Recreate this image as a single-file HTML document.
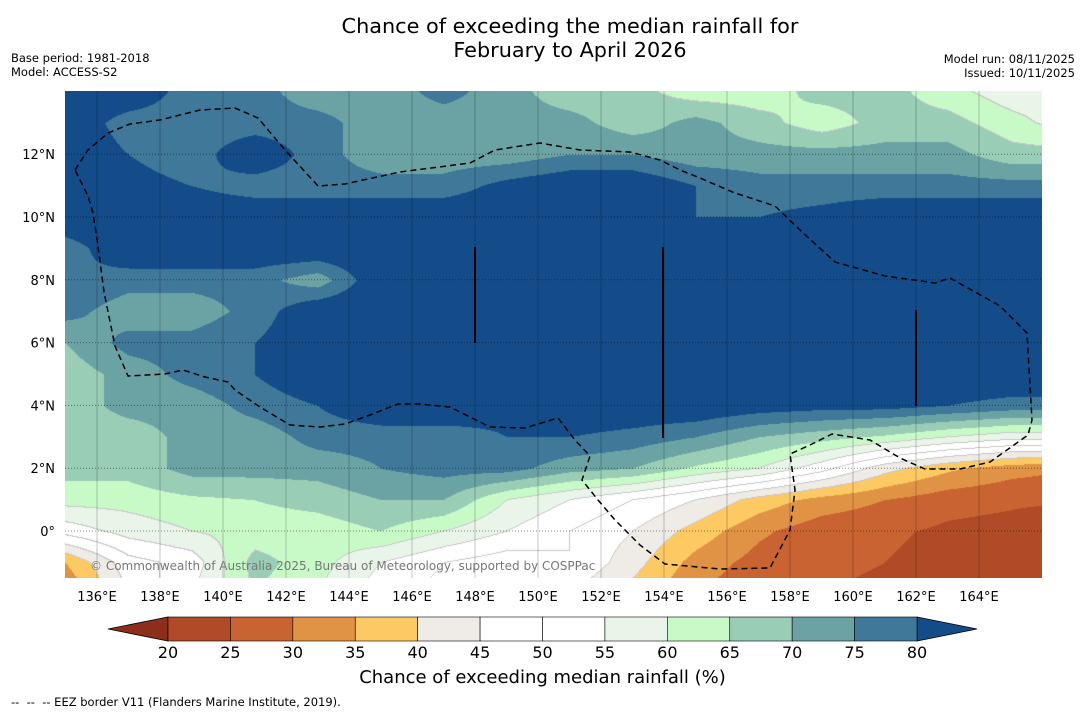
<!DOCTYPE html>
<html><head><meta charset="utf-8">
<style>
body{margin:0;background:#fff;width:1085px;height:713px;overflow:hidden;position:relative;font-family:"DejaVu Sans","Liberation Sans",sans-serif;}
.t{position:absolute;white-space:nowrap;color:#000;}
canvas{position:absolute;left:65px;top:91px;}
svg{position:absolute;left:0;top:0;}
</style></head><body>
<div class="t" style="left:0;width:1140px;text-align:center;top:14px;font-size:20.8px;line-height:24px;">Chance of exceeding the median rainfall for<br>February to April 2026</div>
<div class="t" style="left:11px;top:51px;font-size:11.5px;line-height:14px;">Base period: 1981-2018<br>Model: ACCESS-S2</div>
<div class="t" style="right:10px;top:52px;font-size:11.5px;line-height:14px;text-align:right;">Model run: 08/11/2025<br>Issued: 10/11/2025</div>
<canvas id="map" width="977" height="487"></canvas>
<svg id="ov" width="1085" height="713"></svg>
<div class="t" style="left:0;width:1085px;text-align:center;top:667px;font-size:18px;">Chance of exceeding median rainfall (%)</div>
<div class="t" style="left:11px;top:695px;font-size:11.5px;">--&nbsp; --&nbsp; -- EEZ border V11 (Flanders Marine Institute, 2019).</div>
<script>
const lons=[135,137,139,141,143,145,147,149,151,153,155,157,159,161,163,165,167];
const lats=[14,13,12,11,10,9,8,7,6,5,4,3,2,1,0,-1,-2];
const grid=[
[85,85,77,77,72,72,77,72,67,67,62,62,67,67,62,57,57],
[85,77,77,77,77,72,72,72,72,67,72,67,62,67,67,62,57],
[85,80,77,85,77,72,72,72,75,75,72,72,72,72,72,67,67],
[85,82,80,77,77,77,77,82,85,85,80,77,77,77,77,77,77],
[85,85,85,85,85,85,85,85,85,85,80,80,82,85,85,85,85],
[77,85,85,85,85,85,85,85,85,85,85,85,85,85,85,85,85],
[80,77,77,77,72,85,85,85,85,85,85,85,85,85,85,85,85],
[77,72,72,77,85,85,85,85,85,85,85,85,85,85,85,85,85],
[70,77,77,80,85,85,85,85,85,85,85,85,85,85,85,85,85],
[67,72,77,80,85,85,85,85,85,85,85,85,85,85,85,85,85],
[67,72,72,77,80,85,85,82,85,85,85,83,82,82,80,78,78],
[67,67,72,72,77,77,77,80,80,78,75,70,67,64,60,57,57],
[67,67,72,72,72,75,77,77,72,70,64,60,52,42,36,32,30],
[62,62,64,65,67,70,70,60,55,50,45,38,33,30,27,26,26],
[52,57,60,62,62,65,60,55,50,45,38,31,27,26,24,23,18],
[35,48,52,67,62,55,50,47,50,42,33,28,26,25,23,23,18],
[30,45,55,65,60,52,48,45,45,38,30,26,25,24,22,22,20]];
const levels=[20,25,30,35,40,45,50,55,60,65,70,75,80];
const lonTicks=[136,138,140,142,144,146,148,150,152,154,156,158,160,162,164];
const latTicks=[12,10,8,6,4,2,0];
const cbTicks=[20,25,30,35,40,45,50,55,60,65,70,75,80];
const colors=['#8c2e1b','#b04a27','#c96331','#e09345','#fdc963','#efebe6','#ffffff','#ffffff','#eaf5ea','#c8fac8','#9acdb6','#6ba3a5','#3f7898','#134c89'];
const X=lon=>65.5+31.5*(lon-135);
const Y=lat=>531-31.4*lat;
const LX=x=>(x-65.5)/31.5+135;
const LY=y=>(531-y)/31.4;
function val(lon,lat){
  let fi=(lon-lons[0])/2, fj=(lats[0]-lat);
  fi=Math.max(0,Math.min(lons.length-1.001,fi)); fj=Math.max(0,Math.min(lats.length-1.001,fj));
  const i=Math.floor(fi),j=Math.floor(fj),a=fi-i,b=fj-j;
  return grid[j][i]*(1-a)*(1-b)+grid[j][i+1]*a*(1-b)+grid[j+1][i]*(1-a)*b+grid[j+1][i+1]*a*b;
}
function lev(v){let k=0;while(k<levels.length&&v>=levels[k])k++;return k;}
const cv=document.getElementById('map'),ctx=cv.getContext('2d');
const W=cv.width,H=cv.height,img=ctx.createImageData(W,H);
const L=new Int8Array(W*H);
for(let y=0;y<H;y++)for(let x=0;x<W;x++)L[y*W+x]=lev(val(LX(x+65),LY(y+91)));
function hex(c){return[parseInt(c.substr(1,2),16),parseInt(c.substr(3,2),16),parseInt(c.substr(5,2),16)];}
const rgb=colors.map(hex);
for(let y=0;y<H;y++)for(let x=0;x<W;x++){
  const k=L[y*W+x];let c=rgb[k];
  const edge=(x<W-1&&L[y*W+x+1]!=k)||(y<H-1&&L[(y+1)*W+x]!=k);
  if(edge&&k>=5&&k<=9)c=[200,200,200];
  const p=(y*W+x)*4;img.data[p]=c[0];img.data[p+1]=c[1];img.data[p+2]=c[2];img.data[p+3]=255;
}
ctx.putImageData(img,0,0);
const ns='http://www.w3.org/2000/svg',ov=document.getElementById('ov');
const FF='DejaVu Sans, Liberation Sans, sans-serif';
function el(t,at,txt){const e=document.createElementNS(ns,t);for(const k in at)e.setAttribute(k,at[k]);if(txt!==undefined)e.textContent=txt;ov.appendChild(e);return e;}
lonTicks.forEach(l=>{const g=el('line',{x1:X(l),x2:X(l),y1:91,y2:578,stroke:'rgba(0,0,0,0.22)','stroke-width':1});


const t=el('text',{x:X(l),y:601,'font-size':13,'text-anchor':'middle','font-family':FF},l+'°E');

});
latTicks.forEach(l=>{const g=el('line',{x1:65,x2:1042,y1:Y(l),y2:Y(l),stroke:'rgba(0,0,0,0.45)','stroke-width':1,'stroke-dasharray':'1,2'});


const t=el('text',{x:55,y:Y(l)+5,'font-size':13,'text-anchor':'end','font-family':FF},l==0?'0°':l+'°N');

});
const eez="75,170 88,150 108,133 130,124 160,120 200,110 235,108 258,118 285,150 318,186 345,184 400,172 470,163 495,150 540,143 580,150 630,152 660,160 680,170 700,178 735,193 775,206 800,230 835,262 885,276 935,283 950,278 1000,306 1027,333 1032,420 1028,435 990,462 960,469 925,469 900,458 870,440 832,434 810,445 790,454 795,490 790,530 770,568 720,569 665,564 640,545 615,520 598,500 582,480 590,456 575,440 558,418 525,428 490,427 450,407 420,404 398,404 370,415 345,424 320,427 290,425 260,407 235,390 228,382 205,377 183,370 165,374 128,376 115,346 104,292 98,246 93,213 88,196 75,170";
const e=el('polyline',{points:eez,fill:'none',stroke:'#000','stroke-width':1.5,'stroke-dasharray':'6,4'});


[[475,247,343],[663,247,438],[916,310,406]].forEach(v=>{const l=el('line',{x1:v[0],x2:v[0],y1:v[1],y2:v[2],stroke:'#000','stroke-width':2});

});
const cp=el('text',{x:90,y:570,'font-size':12,fill:'#777','font-family':FF},'© Commonwealth of Australia 2025, Bureau of Meteorology, supported by COSPPac');


const cbX=v=>168+(v-20)*(749/60);
const lt=el('polygon',{points:'108,629 168,617 168,641',fill:colors[0],stroke:'#000','stroke-width':0.8});


const rt=el('polygon',{points:'917,617 977,629 917,641',fill:colors[13],stroke:'#000','stroke-width':0.8});


for(let k=0;k<levels.length-1;k++){const r=el('rect',{x:cbX(levels[k]),y:617,width:cbX(levels[k+1])-cbX(levels[k]),height:24,fill:colors[k+1],stroke:'#000','stroke-width':0.6});

}
cbTicks.forEach(v=>{const t=el('text',{x:cbX(v),y:658,'font-size':16,'text-anchor':'middle','font-family':FF},v);

});
</script>
</body></html>
